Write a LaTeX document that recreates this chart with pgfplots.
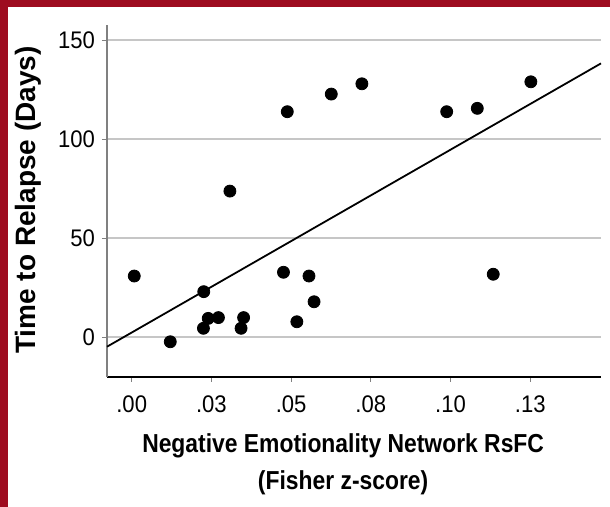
\documentclass[border=0pt]{standalone}
\usepackage{pgfplots}
\pgfplotsset{compat=1.18}
\usepackage{fontspec}
\setmainfont{Liberation Sans}
\newfontfamily\labelfont[FakeStretch=0.88]{Liberation Sans}
\newfontfamily\tickfont[FakeStretch=0.92]{Liberation Sans}
\definecolor{frame}{RGB}{158,12,32}

\begin{document}
\begin{tikzpicture}
    \path[use as bounding box] (0,0) rectangle (305pt,253.5pt);
    \fill[frame] (0,0) rectangle (305pt,253.5pt);
    \fill[white] (4pt,0) rectangle (305pt,250pt);
    \begin{axis}[
            at={(53.5pt,65pt)}, anchor=south west,
            scale only axis, width=247pt, height=176pt,
            %
            xmin=-0.00775, xmax=0.1472,
            ymin=-20.2, ymax=157.6,
            axis lines*=left,
            x axis line style={black, line width=0.9pt},
            y axis line style={gray, line width=0.7pt},
            %
            xtick={0,0.025,0.05,0.075,0.1,0.125},
            xticklabels={.00,.03,.05,.08,.10,.13},
            ytick={0,50,100,150},
            /pgf/number format/assume math mode=true,
            tick align=outside,
            major tick length=2.5pt,
            tick style={gray, line width=0.5pt},
            ticklabel style={font=\tickfont\fontsize{12}{14}\selectfont},
            xticklabel style={yshift=-3.5pt},
            ymajorgrids,
            grid style={gray!45, line width=0.7pt},
            %
            xlabel={Negative Emotionality Network RsFC\\(Fisher z-score)},
            xlabel style={align=center, font=\labelfont\bfseries\fontsize{13}{18.5}\selectfont,
                at={(axis description cs:0.478,-0.249)}, anchor=center},
            ylabel={Time to Relapse (Days)},
            ylabel style={font=\bfseries\fontsize{14}{16}\selectfont,
                at={(axis description cs:-0.16,0.503)}, anchor=center, rotate=0},
            clip=false,
        ]

        % fit line
        \addplot[no markers, black, line width=0.9pt] coordinates {
            (-0.00775, -4.9)
            (0.1472, 138.2)
        };

        \addplot[only marks, mark=*, mark size=3pt, black] coordinates {
            (0.0008, 30.8)
            (0.0121, -2.4)
            (0.0226, 22.9)
            (0.0225, 4.4)
            (0.0240, 9.4)
            (0.0272, 9.8)
            (0.0308, 73.7)
            (0.0343, 4.4)
            (0.0351, 9.8)
            (0.0476, 32.7)
            (0.0488, 113.8)
            (0.0518, 7.7)
            (0.0556, 30.8)
            (0.0572, 17.8)
            (0.0626, 122.7)
            (0.0722, 127.9)
            (0.0988, 113.8)
            (0.1084, 115.5)
            (0.1134, 31.7)
            (0.1252, 128.9)
        };
    \end{axis}
\end{tikzpicture}
\end{document}
